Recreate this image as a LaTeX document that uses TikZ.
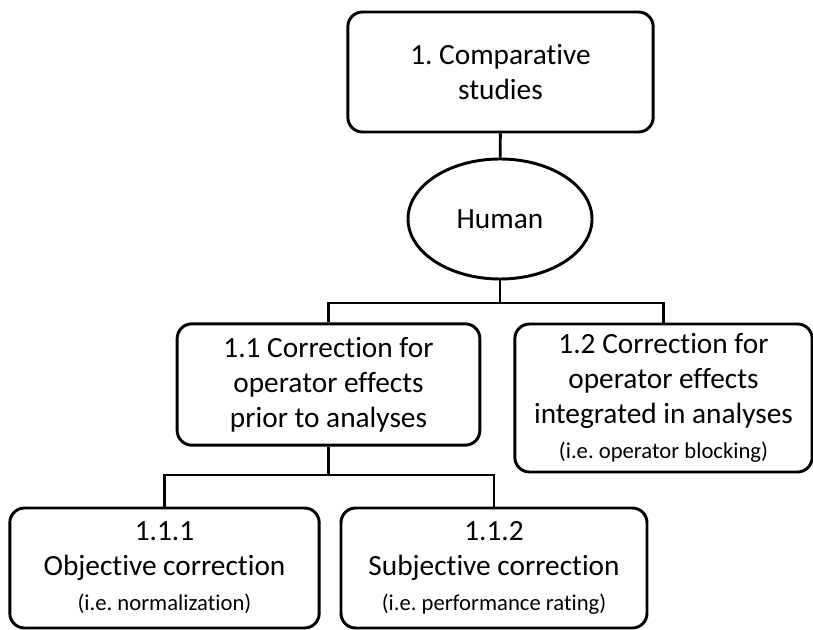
\documentclass[tikz,border=0pt]{standalone}
\usepackage{fontspec}
\setmainfont{Carlito}[Ligatures=NoCommon]
\usepackage{tikz}
\usetikzlibrary{shapes.geometric}
\newcommand{\iesmall}[1]{{\fontsize{17}{20}\selectfont #1}}

\begin{document}
\begin{tikzpicture}[x=0.75pt,y=-0.75pt,line width=2.2pt,
    box/.style={draw,rounded corners=11pt,align=center,inner sep=2pt,
                font=\fontsize{22}{26.25}\selectfont,minimum height=90pt,minimum width=229pt},
    oval/.style={draw,ellipse,align=center,font=\fontsize{22}{26.25}\selectfont,
                 minimum width=138pt,minimum height=90pt,inner sep=0pt}]
  \useasboundingbox (0,0) rectangle (813,630);
  \node[box] (comp) at (500.5,72) {1.\ Comparative\\studies};
  \node[oval] (human) at (500,219) {Human};
  \node[box,minimum width=227pt,minimum height=91pt] (prior) at (328.5,384.5) {1.1 Correction for\\operator effects\\prior to analyses};
  \node[box,minimum width=223pt,minimum height=111pt] (integ) at (663.5,398) {1.2 Correction for\\operator effects\\integrated in analyses\\\iesmall{(i.e.\ operator blocking)}};
  \node[box,minimum width=232pt] (obj) at (164.5,568) {1.1.1\\Objective correction\\\iesmall{(i.e.\ normalization)}};
  \node[box,minimum width=229.5pt] (subj) at (494,568) {1.1.2\\Subjective correction\\\iesmall{(i.e.\ performance rating)}};
  \coordinate (split1) at (500,303);
  \coordinate (split2) at (328.5,475);
  \draw (comp) -- (human);
  \draw (human) -- (split1);
  \draw (split1) -| (prior);
  \draw (split1) -| (integ);
  \draw (prior) -- (split2);
  \draw (split2) -| (obj);
  \draw (split2) -| (subj);
\end{tikzpicture}
\end{document}
